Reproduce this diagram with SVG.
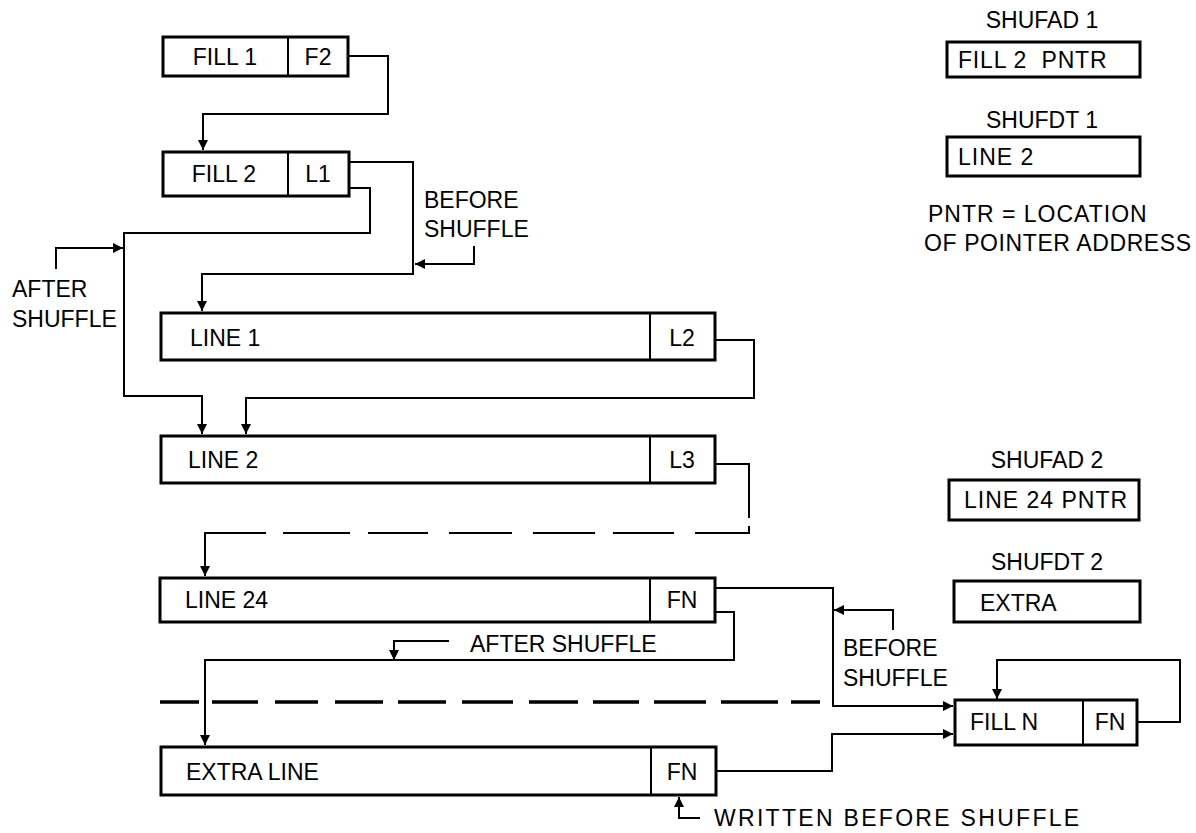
<svg xmlns="http://www.w3.org/2000/svg" width="1196" height="833" viewBox="0 0 1196 833">
<style>
text{font-family:"Liberation Sans",Arial,sans-serif;font-size:23px;fill:#000}
.box{fill:#fff;stroke:#000;stroke-width:3}
.div{stroke:#000;stroke-width:2}
.c{fill:none;stroke:#000;stroke-width:2}
.m{text-anchor:middle}
</style>
<defs>
<marker id="ah" viewBox="0 0 10 10" refX="10" refY="5" markerWidth="12" markerHeight="10" markerUnits="userSpaceOnUse" orient="auto">
<path d="M0,0 L10,5 L0,10 z" fill="#000"/>
</marker>
</defs>
<rect width="1196" height="833" fill="#fff"/>

<g id="connectors">
<path class="c" d="M348,56 H388 V114 H203 V150" marker-end="url(#ah)"/>
<path class="c" d="M349,162 H413 V274 H202 V311" marker-end="url(#ah)"/>
<path class="c" d="M474,246 V264 H415" marker-end="url(#ah)"/>
<path class="c" d="M349,188 H370 V233 H124 V396 H202 V434" marker-end="url(#ah)"/>
<path class="c" d="M56,269 V248 H123" marker-end="url(#ah)"/>
<path class="c" d="M715,340 H754 V398 H246 V434" marker-end="url(#ah)"/>
<path class="c" d="M715,464 H749 V518"/>
<path class="c" d="M749,526 V533 H695 M674,533 H613 M595,533 H533 M512,533 H449 M428,533 H368 M350,533 H283 M266,533 H205 V576" marker-end="url(#ah)"/>
<path class="c" d="M160,702 H199 M212,702 H258 M275,702 H318 M335,702 H383 M398,702 H446 M462,702 H513 M529,702 H578 M593,702 H639 M654,702 H706 M721,702 H778 M791,702 H820" style="stroke-width:3.5"/>
<path class="c" d="M715,588 H833 V706 H953" marker-end="url(#ah)"/>
<path class="c" d="M893,630 V610 H834" marker-end="url(#ah)"/>
<path class="c" d="M715,612 H734 V660 H205 V745" marker-end="url(#ah)"/>
<path class="c" d="M449,641 H394 V660" marker-end="url(#ah)"/>
<path class="c" d="M716,771 H832 V734 H953" marker-end="url(#ah)"/>
<path class="c" d="M1137,722 H1180 V660 H997 V699" marker-end="url(#ah)"/>
<path class="c" d="M700,818 H679 V797" marker-end="url(#ah)"/>
</g>

<g id="fill1">
<rect class="box" x="163" y="37" width="185" height="39"/>
<line class="div" x1="288" y1="37" x2="288" y2="76"/>
<text x="225" y="65" class="m">FILL 1</text>
<text x="318" y="65" class="m">F2</text>
</g>
<g id="fill2">
<rect class="box" x="163" y="152" width="186" height="44"/>
<line class="div" x1="288" y1="152" x2="288" y2="196"/>
<text x="224" y="182" class="m">FILL 2</text>
<text x="318" y="182" class="m">L1</text>
</g>
<g id="line1">
<rect class="box" x="161" y="313" width="554" height="47"/>
<line class="div" x1="650" y1="313" x2="650" y2="360"/>
<text x="190" y="346">LINE 1</text>
<text x="682" y="346" class="m">L2</text>
</g>
<g id="line2">
<rect class="box" x="161" y="436" width="554" height="47"/>
<line class="div" x1="650" y1="436" x2="650" y2="483"/>
<text x="188" y="468">LINE 2</text>
<text x="682" y="468" class="m">L3</text>
</g>
<g id="line24">
<rect class="box" x="160" y="578" width="555" height="44"/>
<line class="div" x1="650" y1="578" x2="650" y2="622"/>
<text x="185" y="608">LINE 24</text>
<text x="682" y="608" class="m">FN</text>
</g>
<g id="extraline">
<rect class="box" x="161" y="747" width="555" height="48"/>
<line class="div" x1="651" y1="747" x2="651" y2="795"/>
<text x="186" y="780">EXTRA LINE</text>
<text x="682" y="780" class="m">FN</text>
</g>
<g id="filln">
<rect class="box" x="955" y="700" width="182" height="45"/>
<line class="div" x1="1083" y1="700" x2="1083" y2="745"/>
<text x="970" y="730">FILL N</text>
<text x="1110" y="730" class="m">FN</text>
</g>
<g id="shufad1">
<text x="1042" y="28" class="m">SHUFAD 1</text>
<rect class="box" x="947" y="42" width="193" height="35"/>
<text x="958" y="68" xml:space="preserve" letter-spacing="0.8">FILL 2  PNTR</text>
</g>
<g id="shufdt1">
<text x="1042" y="128" class="m">SHUFDT 1</text>
<rect class="box" x="947" y="137" width="193" height="39"/>
<text x="958" y="165" letter-spacing="1">LINE 2</text>
</g>
<g id="legend">
<text x="928" y="222" letter-spacing="1">PNTR = LOCATION</text>
<text x="924" y="251" letter-spacing="0.6">OF POINTER ADDRESS</text>
</g>
<g id="shufad2">
<text x="1047" y="468" class="m">SHUFAD 2</text>
<rect class="box" x="949" y="480" width="190" height="40"/>
<text x="964" y="508" letter-spacing="1">LINE 24 PNTR</text>
</g>
<g id="shufdt2">
<text x="1047" y="570" class="m">SHUFDT 2</text>
<rect class="box" x="954" y="581" width="186" height="41"/>
<text x="980" y="611">EXTRA</text>
</g>
<g id="labels">
<text x="424" y="208">BEFORE</text>
<text x="424" y="237">SHUFFLE</text>
<text x="12" y="297">AFTER</text>
<text x="12" y="327">SHUFFLE</text>
<text x="470" y="652">AFTER SHUFFLE</text>
<text x="843" y="656">BEFORE</text>
<text x="843" y="686">SHUFFLE</text>
<text x="714" y="826" letter-spacing="2.3">WRITTEN BEFORE SHUFFLE</text>
</g>
</svg>
